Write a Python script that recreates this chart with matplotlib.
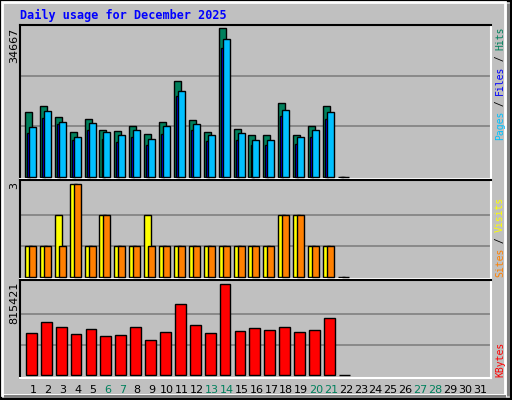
import matplotlib
matplotlib.use("Agg")
import matplotlib.pyplot as plt
from matplotlib.patches import Rectangle

days = list(range(1, 32))
weekend_days = [6, 7, 13, 14, 20, 21, 27, 28]
hits = [15223, 16628, 14052, 10539, 13584, 11007, 10773, 11944, 10071, 12881, 22249,
        13349, 10539, 34667, 11242, 9836, 9836, 17331, 9836, 11944, 16628, 0]
files = [10305, 13818, 12413, 8665, 11007, 8900, 8197, 9368, 7494, 10071, 18736,
         11007, 8431, 29978, 8665, 7494, 7494, 14286, 7729, 9368, 13584, 0]
pages = [11710, 15457, 12881, 9368, 12647, 10539, 9836, 11007, 8900, 11944, 19907,
         12413, 9836, 32085, 10305, 8665, 8665, 15691, 9368, 11007, 15223, 0]
visits = [1, 1, 2, 3, 1, 2, 1, 1, 2, 1, 1, 1, 1, 1, 1, 1, 1, 2, 2, 1, 1, 0]
sites = [1, 1, 1, 3, 1, 2, 1, 1, 1, 1, 1, 1, 1, 1, 1, 1, 1, 2, 2, 1, 1, 0]
kbytes = [376362, 474933, 430128, 367401, 412206, 349479, 358440, 430128, 313635,
          385323, 636231, 448050, 376362, 815421, 394284, 421167, 403245, 430128,
          385323, 403245, 510777, 0]
max_hits = 34667
max_visits = 3
max_kbytes = 815421

W, H = 512, 400
BG = "#C0C0C0"
GREEN = "#00805C"
BLUE = "#0000FF"
CYAN = "#00C0FF"
fig = plt.figure(figsize=(W / 100, H / 100), dpi=100, facecolor=BG)

def fx(px): return px / W
def fy(py): return 1 - py / H

# bevel border
fig.patches.append(Rectangle((0, 0), 1, 1, transform=fig.transFigure, fill=False,
                             edgecolor="black", linewidth=3))
fig.patches.append(Rectangle((fx(2), fy(395)), fx(505) - fx(2), fy(2) - fy(395),
                             transform=fig.transFigure, fill=False, edgecolor="white", linewidth=2))
fig.patches.append(Rectangle((fx(507), fy(396)), fx(3), fy(4) - fy(396), transform=fig.transFigure,
                             facecolor="#808080", edgecolor="none"))
fig.patches.append(Rectangle((fx(4), fy(398)), fx(506) - fx(4), fy(395) - fy(398), transform=fig.transFigure,
                             facecolor="#808080", edgecolor="none"))

X0, X1 = 20, 491
sp = 14.9
xl = (1 - 13 / sp, 31 + 11 / sp)

def make_ax(top, bot):
    ax = fig.add_axes([fx(X0), fy(bot), fx(X1) - fx(X0), fy(top) - fy(bot)])
    ax.set_facecolor(BG)
    ax.set_xlim(*xl)
    ax.set_xticks([]); ax.set_yticks([])
    ax.spines["top"].set_color("black"); ax.spines["left"].set_color("black")
    ax.spines["bottom"].set_color("white"); ax.spines["right"].set_color("white")
    for s in ax.spines.values():
        s.set_linewidth(1.5)
    return ax

n = len(hits)
d = days[:n]
lw = 1.0

# top panel
ax1 = make_ax(25, 179)
S1 = max_hits * 151 / 148
ax1.set_ylim(-2 / 151 * S1, S1)
for g in (S1 / 3, 2 * S1 / 3):
    ax1.axhline(g, color="#808080", lw=1.2, zorder=0)
ax1.bar([x - 0.54 for x in d], hits, width=0.47, align="edge", color=GREEN, edgecolor="black", lw=lw, zorder=2)
ax1.bar([x - 0.40 for x in d], files, width=0.2, align="edge", color=BLUE, edgecolor="black", lw=lw, zorder=3)
ax1.bar([x - 0.27 for x in d], pages, width=0.47, align="edge", color=CYAN, edgecolor="black", lw=lw, zorder=4)

# middle panel
ax2 = make_ax(180, 279)
ax2.set_ylim(-2 / 31, 97 / 31)
for g in (1, 2):
    ax2.axhline(g, color="#808080", lw=1.2, zorder=0)
ax2.bar([x - 0.54 for x in d], visits, width=0.47, align="edge", color="#FFFF00", edgecolor="black", lw=lw, zorder=2)
ax2.bar([x - 0.27 for x in d], sites, width=0.47, align="edge", color="#FF8000", edgecolor="black", lw=lw, zorder=3)

# bottom panel
ax3 = make_ax(280, 378)
S3 = max_kbytes * 91 / 91
ax3.set_ylim(-3 / 91 * S3, 95 / 91 * S3)
for g in (S3 / 3, 2 * S3 / 3):
    ax3.axhline(g, color="#808080", lw=1.2, zorder=0)
ax3.bar([x - 0.47 for x in d], kbytes, width=0.72, align="edge", color="#FF0000", edgecolor="black", lw=lw, zorder=2)

# day labels
for day in days:
    px = X0 + (day - xl[0]) * sp
    fig.text(fx(px), fy(390), str(day), ha="center", va="center", fontsize=8,
             family="DejaVu Sans", color=GREEN if day in weekend_days else "black")

# title
fig.text(fx(20), fy(15), "Daily usage for December 2025", ha="left", va="center",
         fontsize=8.5, family="DejaVu Sans Mono", weight="bold", color="#0000FF")

# left max labels
for txt, top in ((str(max_hits), 28), (str(max_visits), 182), (str(max_kbytes), 282)):
    fig.text(fx(14), fy(top), txt, rotation=90, ha="center", va="top", fontsize=8, family="DejaVu Sans")

# right labels
cw = 5.6
def vlabel(parts, start_y):
    y = start_y
    for txt, col in parts:
        fig.text(fx(500), fy(y), txt, rotation=90, ha="center", va="bottom", fontsize=7,
                 family="DejaVu Sans Mono", color=col)
        y -= cw * len(txt)

vlabel([("Pages", CYAN), (" / ", "black"), ("Files", BLUE), (" / ", "black"), ("Hits", GREEN)], 140)
vlabel([("Sites", "#FF8000"), (" / ", "black"), ("Visits", "#FFFF00")], 277)
vlabel([("KBytes", "#FF0000")], 377)

fig.savefig("out.png", dpi=100, facecolor=BG)
